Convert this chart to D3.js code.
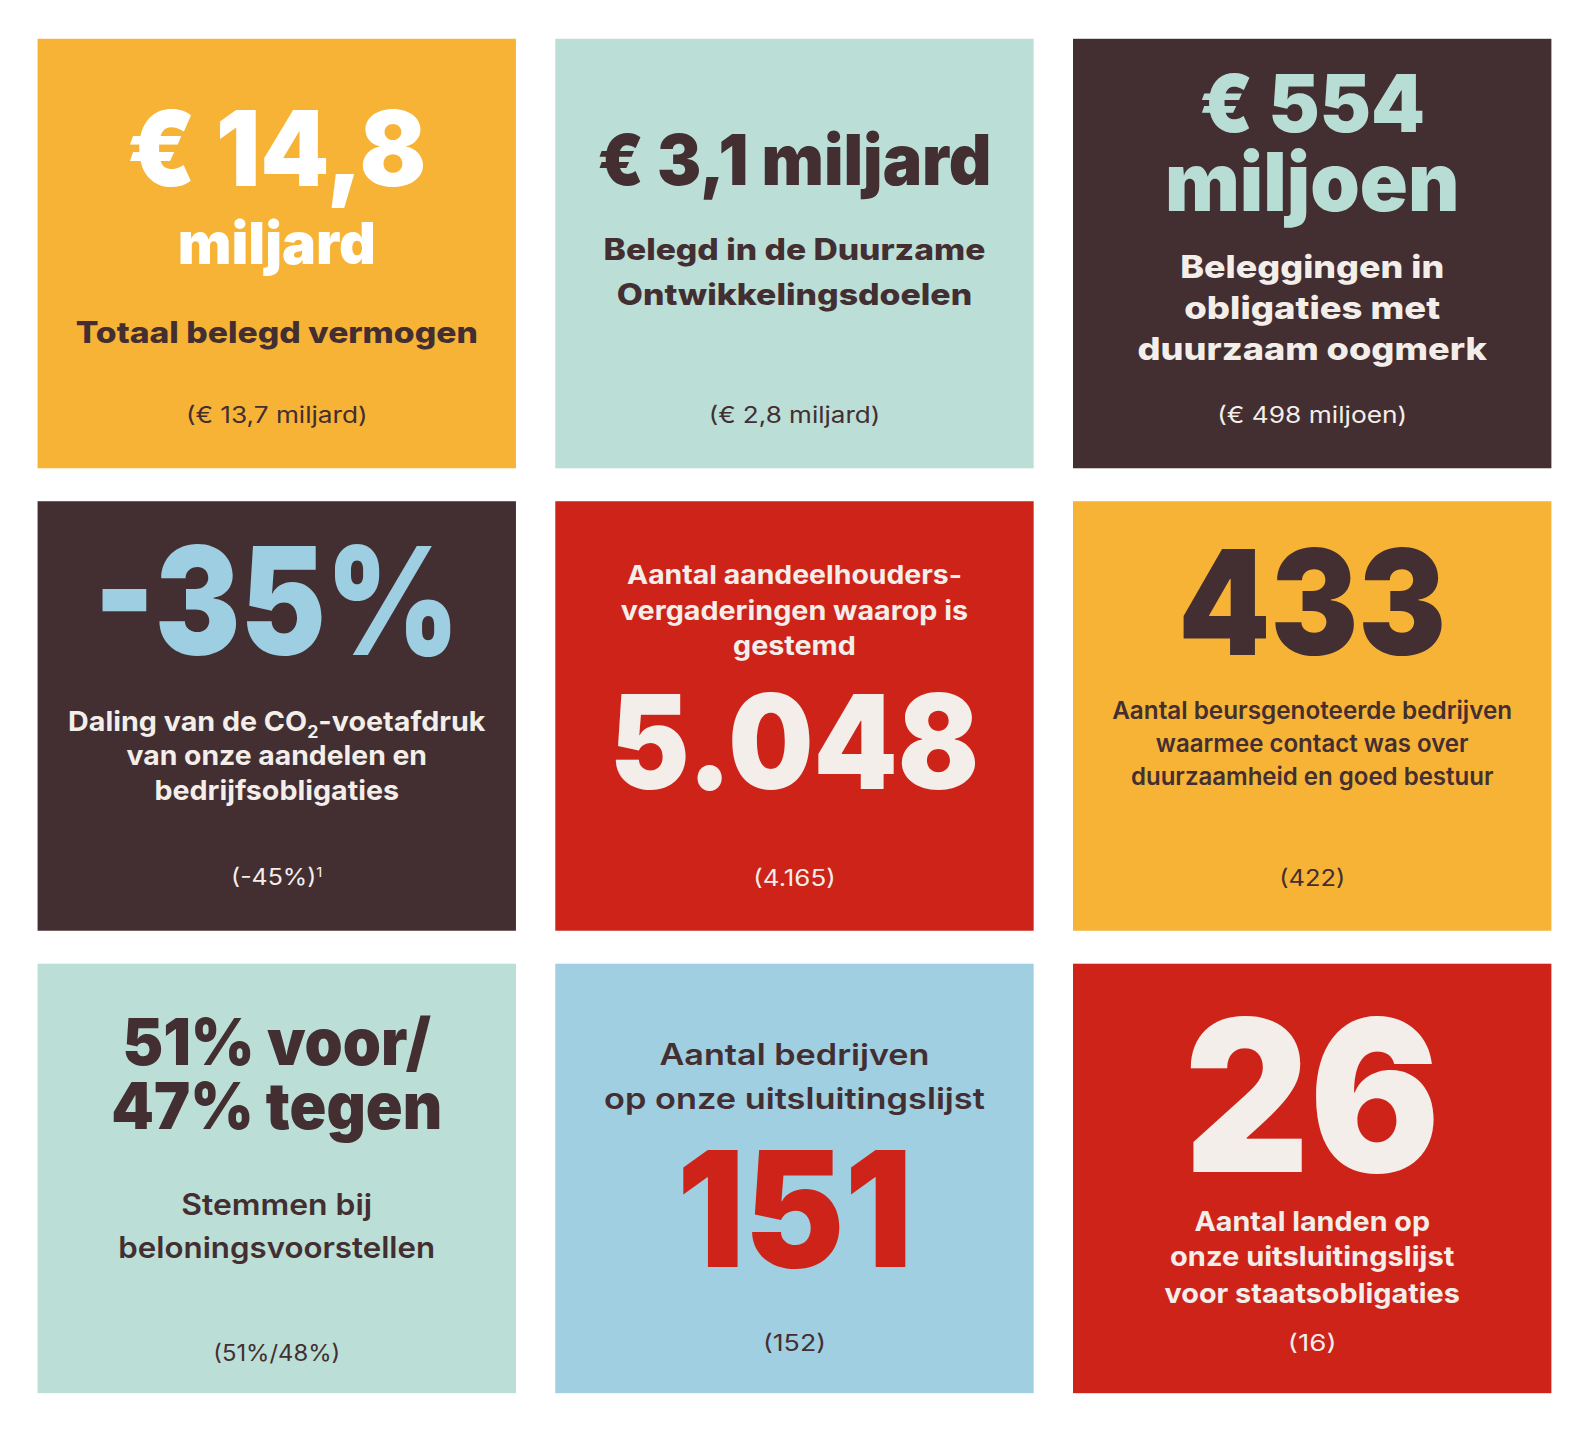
<!DOCTYPE html>
<html>
<head>
<meta charset="utf-8">
<script src="https://cdn.jsdelivr.net/npm/d3@7"></script>
<style>
  html, body { margin: 0; padding: 0; background: #ffffff; }
  svg { display: block; }
  text { font-family: Inter, "Noto Sans", "DejaVu Sans", sans-serif; }
</style>
</head>
<body>
<svg id="chart"></svg>
<script>
// ---------- data ----------
const headlines = [
  ["€ 14,8", "miljard"],
  ["€ 3,1 miljard"],
  ["€ 554", "miljoen"],
  ["-35%"],
  ["5.048"],
  ["433"],
  ["51% voor/", "47% tegen"],
  ["151"],
  ["26"]
];
const descriptions = [
  ["Totaal belegd vermogen"],
  ["Belegd in de Duurzame", "Ontwikkelingsdoelen"],
  ["Beleggingen in", "obligaties met", "duurzaam oogmerk"],
  ["Daling van de CO|2|-voetafdruk", "van onze aandelen en", "bedrijfsobligaties"],
  ["Aantal aandeelhouders-", "vergaderingen waarop is", "gestemd"],
  ["Aantal beursgenoteerde bedrijven", "waarmee contact was over", "duurzaamheid en goed bestuur"],
  ["Stemmen bij", "beloningsvoorstellen"],
  ["Aantal bedrijven", "op onze uitsluitingslijst"],
  ["Aantal landen op", "onze uitsluitingslijst", "voor staatsobligaties"]
];
const previousValues = [
  "(€ 13,7 miljard)", "(€ 2,8 miljard)", "(€ 498 miljoen)",
  "(-45%)^1", "(4.165)", "(422)",
  "(51%/48%)", "(152)", "(16)"
];
const tileColors = ["#F6B335", "#BBDED6", "#432E31", "#432E31", "#CE2319", "#F6B335", "#BBDED6", "#9FCFE1", "#CE2319"];
const headlineColors = ["#FFFFFF", "#432E31", "#B7DDD5", "#9DCEE1", "#F3EEEA", "#432E31", "#432E31", "#CE2319", "#F3EEEA"];
const textColors = ["#432E31", "#432E31", "#F3EEEA", "#F3EEEA", "#F3EEEA", "#432E31", "#432E31", "#432E31", "#F3EEEA"];

// ---------- layout (styles / positions, relative to tile top, in reference units) ----------
// each entry: [baseline offset, font size, weight, target width]
const layout = [
  { head: [[145, 103, 900, 295], [222, 57, 900, 195]], desc: [[300, 29, 800, 396]], prev: [378, 22, 400, 179] },
  { head: [[144, 69, 900, 388]], desc: [[218, 29, 800, 376], [262, 29, 800, 350]], prev: [378, 22, 400, 169] },
  { head: [[92, 78, 900, 222], [170, 80, 900, 290]], desc: [[236, 31, 800, 260], [276, 31, 800, 252], [316, 31, 800, 344]], prev: [378, 22, 400, 187] },
  { head: [[151, 148, 900, 360]], desc: [[226, 27, 700, 411], [260, 27, 700, 296], [294, 27, 700, 241]], prev: [378, 22, 400, 90] },
  { head: [[283, 129, 900, 364]], desc: [[82, 26, 700, 330], [117, 26, 700, 342], [151, 26, 700, 121]], prev: [379, 22, 400, 81] },
  { head: [[151, 144, 900, 264]], desc: [[214, 24, 600, 394], [247, 24, 600, 308], [279, 24, 600, 357]], prev: [379, 22, 400, 65] },
  { head: [[100, 64, 900, 304], [163, 64, 900, 326]], desc: [[248, 29, 600, 188], [290, 29, 600, 312]], prev: [391, 22, 400, 125] },
  { head: [[299, 158, 900, 232]], desc: [[100, 29, 600, 266], [143, 29, 600, 375]], prev: [381, 22, 400, 62] },
  { head: [[205, 208, 900, 252]], desc: [[263, 27, 700, 232], [298, 27, 700, 280], [334, 27, 700, 291]], prev: [381, 22, 400, 48] }
];

// ---------- drawing ----------
const W = 1568, H = 1412;
const svg = d3.select("#chart")
  .attr("width", 1592).attr("height", 1434)
  .attr("viewBox", `0 0 ${W} ${H}`);

const x = d3.scaleBand().domain([0, 1, 2]).range([37, 1528]).paddingInner(0.076);
const y = d3.scaleBand().domain([0, 1, 2]).range([38, 1372]).paddingInner(0.0713);

const tiles = svg.selectAll("g.tile")
  .data(headlines.map((h, i) => ({ i, h, d: descriptions[i], p: previousValues[i], L: layout[i] })))
  .join("g")
  .attr("class", "tile")
  .attr("transform", d => `translate(${x(d.i % 3)},${y(Math.floor(d.i / 3))})`);

tiles.append("rect")
  .attr("width", x.bandwidth())
  .attr("height", y.bandwidth())
  .attr("fill", d => tileColors[d.i]);

const cx = x.bandwidth() / 2;

function addLine(g, str, spec, color) {
  const [by, fs, fw, tw] = spec;
  const t = g.append("text")
    .attr("x", cx)
    .attr("y", by)
    .attr("text-anchor", "middle")
    .attr("font-size", fs)
    .attr("font-weight", fw)
    .attr("fill", color);
  if (str.includes("|")) {
    const parts = str.split("|");
    t.append("tspan").text(parts[0]);
    t.append("tspan").attr("dy", fs * 0.28).attr("font-size", fs * 0.62).text(parts[1]);
    t.append("tspan").attr("dy", -fs * 0.28).text(parts[2]);
  } else if (str.includes("^")) {
    const parts = str.split("^");
    t.append("tspan").text(parts[0]);
    t.append("tspan").attr("dy", -fs * 0.38).attr("font-size", fs * 0.6).text(parts[1]);
  } else {
    t.text(str);
  }
  if (tw) t.attr("textLength", tw).attr("lengthAdjust", "spacingAndGlyphs");
  return t;
}

tiles.each(function (d) {
  const g = d3.select(this);
  d.h.forEach((s, k) => addLine(g, s, d.L.head[k], headlineColors[d.i]));
  d.d.forEach((s, k) => addLine(g, s, d.L.desc[k], textColors[d.i]));
  addLine(g, d.p, d.L.prev, textColors[d.i]);
});
</script>
</body>
</html>
